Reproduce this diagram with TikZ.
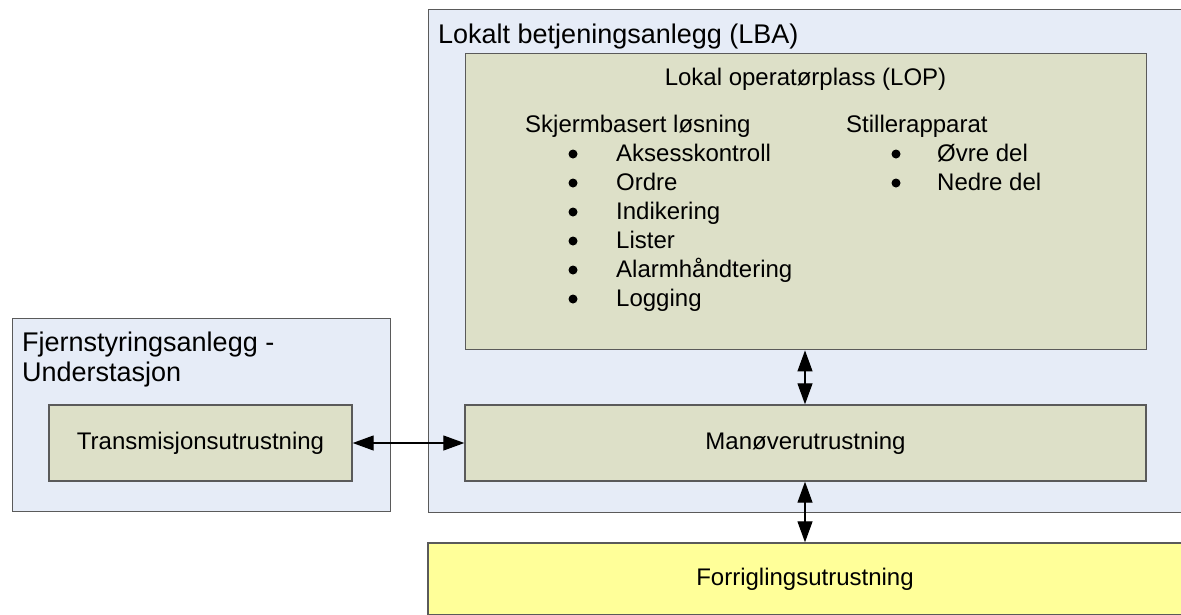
\documentclass[tikz,border=0pt]{standalone}
\usepackage{fontspec}
\setmainfont{Liberation Sans}
\usetikzlibrary{arrows.meta}
\definecolor{lbablue}{RGB}{230,236,247}
\definecolor{lopgreen}{RGB}{221,224,200}
\definecolor{forryellow}{RGB}{255,255,153}
\definecolor{framegray}{RGB}{90,90,90}

\begin{document}
\begin{tikzpicture}[x=1pt,y=-1pt,
	every node/.style={font=\fontsize{24}{29}\selectfont,inner sep=0pt},
	frame/.style={draw=framegray,line width=1.4pt},
	title/.style={font=\fontsize{27}{30}\selectfont},
	dot/.style={circle,fill=black,minimum size=9pt},
	link/.style={{Triangle[length=21pt,width=15pt]}-{Triangle[length=21pt,width=15pt]},line width=1.2pt}]
\useasboundingbox (0,0) rectangle (1181,614);
\def \dy {29} % distance between list lines

% outer boxes
\node[frame,fill=lbablue,anchor=north west,minimum width=754pt,minimum height=503pt] (lba) at (428,9) {};
\node[frame,fill=lbablue,anchor=north west,minimum width=378pt,minimum height=193pt] (fjern) at (12,318) {};
\node[frame,fill=forryellow,minimum width=754pt,minimum height=72pt] (forr) at (805,579) {Forriglingsutrustning};

% inner boxes
\node[frame,fill=lopgreen,anchor=north west,minimum width=681pt,minimum height=296pt] (lop) at (465,53) {};
\node[frame,fill=lopgreen,minimum width=681pt,minimum height=76pt] (manover) at (805.5,443) {Manøverutrustning};
\node[frame,fill=lopgreen,minimum width=303pt,minimum height=76pt] (trans) at (200.5,443) {Transmisjonsutrustning};

% titles
\node[title,anchor=base west] (lbatitle) at (438,43) {Lokalt betjeningsanlegg (LBA)};
\node[title,anchor=north west,align=left] (fjerntitle) at (22,332) {Fjernstyringsanlegg -\\Understasjon};
\node[anchor=base] (loptitle) at (805.5,85) {Lokal operatørplass (LOP)};

% lists
\node[anchor=base west] (skjerm) at (525,132) {Skjermbasert løsning};
\foreach \s [count=\i] in {Aksesskontroll,Ordre,Indikering,Lister,Alarmhåndtering,Logging}
{
	\node[dot] (skdot\i) at (573,{125+\i*\dy}) {};
	\node[anchor=base west] (sk\i) at (616,{132+\i*\dy}) {\s};
}
\node[anchor=base west] (stiller) at (846,132) {Stillerapparat};
\foreach \s [count=\i] in {Øvre del,Nedre del}
{
	\node[dot] (stdot\i) at (896,{125+\i*\dy}) {};
	\node[anchor=base west] (st\i) at (937,{132+\i*\dy}) {\s};
}

% connections
\coordinate (axis) at (805,0);
\draw[link] (trans.east) -- (manover.west);
\draw[link] (lop.south -| axis) -- (manover.north -| axis);
\draw[link] (manover.south -| axis) -- (forr.north -| axis);
\end{tikzpicture}
\end{document}
